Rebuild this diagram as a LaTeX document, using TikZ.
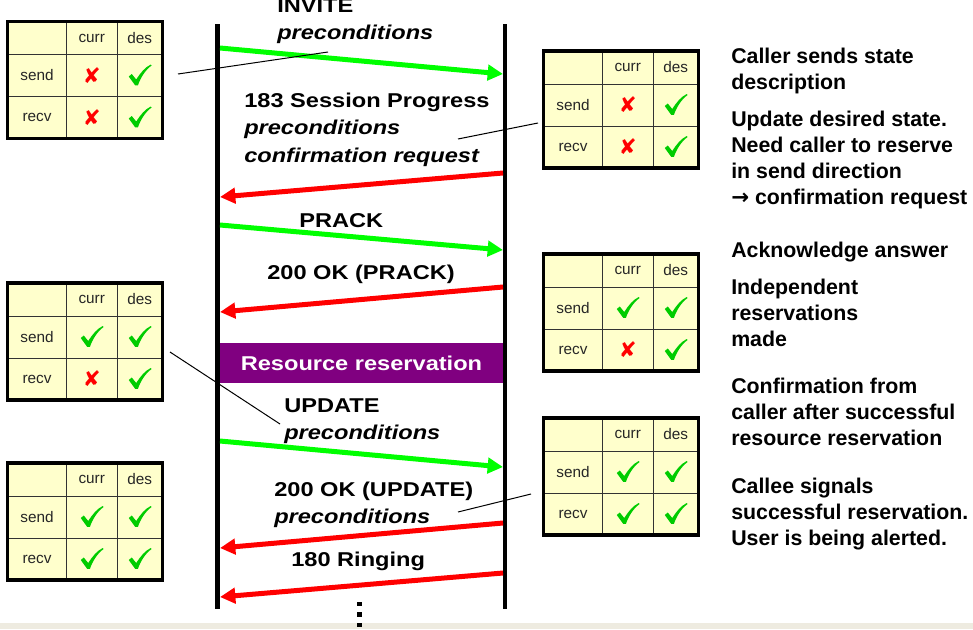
\documentclass[tikz,border=0pt]{standalone}
\usepackage{fontspec}
\setmainfont{Liberation Sans}
\newfontfamily\msgfont[FakeStretch=1.18]{Liberation Sans}
\newfontfamily\symfont{DejaVu Sans}
\usetikzlibrary{arrows.meta}

\definecolor{sigred}{RGB}{255,0,0}
\definecolor{siggreen}{RGB}{0,255,0}
\definecolor{okgreen}{RGB}{0,204,0}
\definecolor{nored}{RGB}{255,0,0}
\definecolor{tabfill}{RGB}{255,255,204}
\definecolor{resvpurple}{RGB}{128,0,128}
\definecolor{footbeige}{RGB}{238,235,224}

\tikzset{
  lifeline/.style={line width=3.4pt, black},
  sigarrow/.style={line width=3.75pt, -{Triangle[length=11.5pt,width=11.5pt]}},
  fwd/.style={sigarrow, siggreen},
  bwd/.style={sigarrow, sigred},
  pointer/.style={line width=0.75pt, black},
  msglabel/.style={anchor=base west, inner sep=0, align=left,
    font=\msgfont\fontsize{15}{20.6}\selectfont\bfseries},
  note/.style={anchor=base west, inner sep=0, align=left,
    font=\fontsize{16}{19.3}\selectfont\bfseries},
  cell/.style={inner sep=0, font=\fontsize{11.5}{12}\selectfont, text=black!85},
  % state marks used in the precondition tables
  okmark/.pic={
    \fill[okgreen] (-11,1) -- (-8,-1.5) -- (-3.5,4)
      .. controls (1,-3) and (5,-8) .. (11,-11) -- (11.8,-10)
      .. controls (5,-5) and (0.5,3) .. (-1.8,9.8) -- (-4.6,9.8) -- cycle;
  },
  nomark/.pic={
    \node[inner sep=0, text=nored, font=\symfont\fontsize{16}{16}\selectfont] {✘};
  },
}

% precondition table: name, left x, top y, send curr, send des, recv curr, recv des
\newcommand{\sttable}[7]{%
  \begin{scope}[shift={(#2,#3)}]
    \fill[tabfill] (0,0) rectangle (155,117);
    \draw[line width=0.75pt, black!80] (59,0) -- (59,117) (109.5,0) -- (109.5,117)
      (0,33) -- (155,33) (0,75) -- (155,75);
    \draw[line width=2.3pt] (0,0) rectangle (155,117);
    \node[cell] (#1-curr) at (84.25,16.5) {curr};
    \node[cell] (#1-des) at (132.25,16.5) {des};
    \node[cell] (#1-send) at (29.5,54) {send};
    \node[cell] (#1-recv) at (29.5,96) {recv};
    \pic at (84.25,54) {#4};
    \pic at (132.25,54) {#5};
    \pic at (84.25,96) {#6};
    \pic at (132.25,96) {#7};
  \end{scope}}

\begin{document}
\begin{tikzpicture}[x=0.75pt,y=-0.75pt]
\useasboundingbox (0,0) rectangle (973,629);
\fill[white] (0,0) rectangle (973,629);
\fill[footbeige] (0,623) rectangle (973,629);

% lifelines of caller and callee
\coordinate (caller-top) at (217.5,24);
\coordinate (caller-bot) at (217.5,609);
\coordinate (callee-top) at (505,24);
\coordinate (callee-bot) at (505,609);
\draw[lifeline] (caller-top) -- (caller-bot);
\draw[lifeline] (callee-top) -- (callee-bot);

% message end points on the lifelines
\coordinate (inv-a) at (220,48);   \coordinate (inv-b) at (503,74);
\coordinate (prog-a) at (503,173); \coordinate (prog-b) at (220,197);
\coordinate (prack-a) at (220,225);\coordinate (prack-b) at (503,250);
\coordinate (okp-a) at (503,287);  \coordinate (okp-b) at (220,312);
\coordinate (upd-a) at (220,441);  \coordinate (upd-b) at (503,467);
\coordinate (oku-a) at (503,523);  \coordinate (oku-b) at (220,548);
\coordinate (ring-a) at (503,573); \coordinate (ring-b) at (220,597);

\draw[fwd] (inv-a) -- (inv-b);
\draw[bwd] (prog-a) -- (prog-b);
\draw[fwd] (prack-a) -- (prack-b);
\draw[bwd] (okp-a) -- (okp-b);
\draw[fwd] (upd-a) -- (upd-b);
\draw[bwd] (oku-a) -- (oku-b);
\draw[bwd] (ring-a) -- (ring-b);

% message labels (anchored at the baseline of their last line)
\node[msglabel] (inv-l) at (277,39.5) {INVITE\\\itshape preconditions};
\node[msglabel] (prog-l) at (244,162) {183 Session Progress\\\itshape preconditions\\\itshape confirmation request};
\node[msglabel] (prack-l) at (299,227) {PRACK};
\node[msglabel] (okp-l) at (267,279) {200 OK (PRACK)};
\node[msglabel] (upd-l) at (284,439.5) {UPDATE\\\itshape preconditions};
\node[msglabel] (oku-l) at (274,523.5) {200 OK (UPDATE)\\\itshape preconditions};
\node[msglabel] (ring-l) at (291,566) {180 Ringing};

% resource reservation phase
\node[fill=resvpurple, minimum width=212.25pt, minimum height=30pt, inner sep=0,
  text=white, font=\msgfont\fontsize{15}{18}\selectfont\bfseries] (resv) at (361.5,363) {Resource reservation};

% continuation dots
\foreach \yy in {604,614.5,625} \fill (357.3,\yy-2.25) rectangle +(4.5,4.5);

% precondition tables
\sttable{t1}{7.5}{21.5}{nomark}{okmark}{nomark}{okmark}
\sttable{t2}{543.5}{51}{nomark}{okmark}{nomark}{okmark}
\sttable{t3}{7.5}{283}{okmark}{okmark}{nomark}{okmark}
\sttable{t4}{543.5}{254}{okmark}{okmark}{nomark}{okmark}
\sttable{t5}{7.5}{463}{okmark}{okmark}{okmark}{okmark}
\sttable{t6}{543.5}{418}{okmark}{okmark}{okmark}{okmark}

% pointers from tables to the messages that carry them
\coordinate (p1a) at (178,74);  \coordinate (p1b) at (328,52);
\coordinate (p2a) at (458,139); \coordinate (p2b) at (538,123);
\coordinate (p3a) at (170,352); \coordinate (p3b) at (280,424);
\coordinate (p4a) at (458,512); \coordinate (p4b) at (531,494);
\draw[pointer] (p1a) -- (p1b);
\draw[pointer] (p2a) -- (p2b);
\draw[pointer] (p3a) -- (p3b);
\draw[pointer] (p4a) -- (p4b);

% explanations (anchored at the baseline of their last line)
\node[note] (n1) at (731,89.7) {Caller sends state\\description};
\node[note] (n2) at (731,204) {Update desired state.\\Need caller to reserve\\in send direction\\{\symfont\bfseries →} confirmation request};
\node[note] (n3) at (731,257) {Acknowledge answer};
\node[note] (n4) at (731,346.4) {Independent\\reservations\\made};
\node[note] (n5) at (731,445.4) {Confirmation from\\caller after successful\\resource reservation};
\node[note] (n6) at (731,545.4) {Callee signals\\successful reservation.\\User is being alerted.};
\end{tikzpicture}
\end{document}
